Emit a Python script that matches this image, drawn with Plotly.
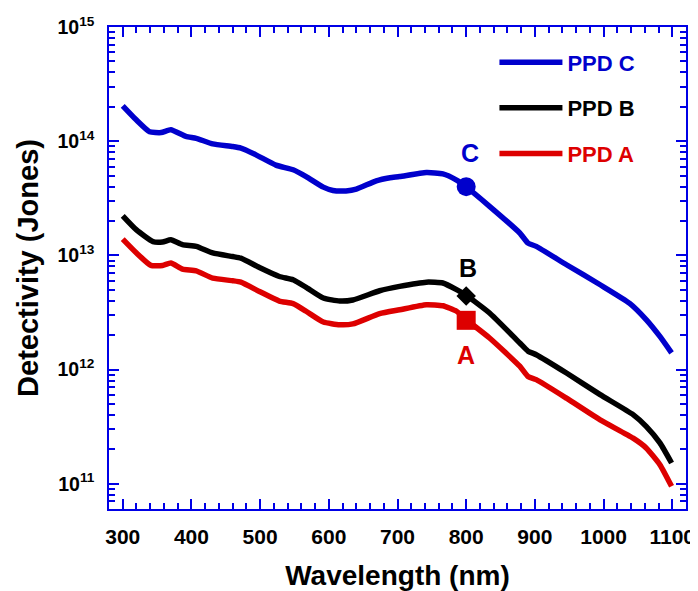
import math
import plotly.graph_objects as go

# ---------------- data ----------------
wl_c = [300, 320, 339, 356, 370, 392, 407, 431, 460, 472, 494, 523, 548, 567, 592, 606, 625, 640,
        669, 689, 703, 742, 766, 786, 800, 834, 878, 890, 902, 946, 995, 1038, 1062, 1082, 1099]
d_c = [2.04e14, 1.53e14, 1.21e14, 1.19e14, 1.26e14, 1.10e14, 1.06e14, 9.46e13, 8.97e13, 8.69e13,
       7.59e13, 6.17e13, 5.62e13, 4.90e13, 3.96e13, 3.70e13, 3.67e13, 3.80e13, 4.50e13, 4.79e13,
       4.90e13, 5.31e13, 5.18e13, 4.57e13, 3.98e13, 2.69e13, 1.57e13, 1.28e13, 1.20e13, 8.28e12,
       5.53e12, 3.80e12, 2.74e12, 1.95e12, 1.40e12]

wl_b = [300, 320, 344, 358, 370, 387, 407, 431, 460, 472, 499, 528, 548, 567, 592, 616, 635,
        674, 703, 742, 766, 786, 800, 834, 878, 890, 902, 946, 995, 1043, 1062, 1082, 1099]
d_b = [2.22e13, 1.67e13, 1.32e13, 1.31e13, 1.37e13, 1.24e13, 1.20e13, 1.05e13, 9.77e12, 9.46e12,
       7.83e12, 6.53e12, 6.11e12, 5.25e12, 4.23e12, 3.98e12, 4.07e12, 4.90e12, 5.35e12, 5.83e12,
       5.73e12, 5.01e12, 4.47e12, 3.13e12, 1.71e12, 1.45e12, 1.35e12, 9.33e11, 6.03e11, 4.03e11,
       3.18e11, 2.28e11, 1.52e11]

wl_a = [300, 320, 341, 358, 370, 387, 407, 431, 460, 472, 499, 528, 548, 567, 592, 616, 635,
        674, 703, 742, 766, 786, 800, 834, 878, 890, 902, 946, 995, 1043, 1062, 1082, 1099]
d_a = [1.39e13, 1.05e13, 8.17e12, 8.17e12, 8.57e12, 7.59e12, 7.33e12, 6.31e12, 6.00e12, 5.83e12,
       4.83e12, 3.98e12, 3.78e12, 3.24e12, 2.61e12, 2.47e12, 2.51e12, 3.09e12, 3.34e12, 3.70e12,
       3.62e12, 3.24e12, 2.74e12, 1.89e12, 1.07e12, 8.71e11, 8.17e11, 5.62e11, 3.63e11, 2.51e11,
       2.06e11, 1.47e11, 9.5e10]

mark_wl = [800]
mark_c = [4.0e13]
mark_b = [4.4e12]
mark_a = [2.7e12]

label_c, label_b, label_a = "C", "B", "A"
label_y_c, label_y_b, label_y_a = 7.9e13, 7.8e12, 1.33e12  # label positions (data units)

x_ticks = [300, 400, 500, 600, 700, 800, 900, 1000, 1100]
y_ticks = [1e11, 1e12, 1e13, 1e14, 1e15]
y_ticktext = ["10<sup>11</sup>", "10<sup>12</sup>", "10<sup>13</sup>", "10<sup>14</sup>", "10<sup>15</sup>"]

BLUE = "#0000CC"
BLACK = "#000000"
RED = "#DD0000"
AXIS = "#0000E6"
FONT = "Liberation Sans, Arial, sans-serif"

fig = go.Figure()

series = [
    ("PPD C", wl_c, d_c, BLUE, "c"),
    ("PPD B", wl_b, d_b, BLACK, "b"),
    ("PPD A", wl_a, d_a, RED, "a"),
]
for name, x, y, col, grp in series:
    fig.add_trace(go.Scatter(
        x=x, y=y, mode="lines", legendgroup=grp,
        name=f"<span style='color:{col}'><b>{name}</b></span>",
        line=dict(color=col, width=5.5, shape="spline", smoothing=0.5),
    ))

fig.add_trace(go.Scatter(x=mark_wl, y=mark_c, mode="markers", showlegend=False,
                         marker=dict(symbol="circle", size=19, color=BLUE)))
fig.add_trace(go.Scatter(x=mark_wl, y=mark_b, mode="markers", showlegend=False,
                         marker=dict(symbol="diamond", size=15, color=BLACK)))
fig.add_trace(go.Scatter(x=mark_wl, y=mark_a, mode="markers", showlegend=False,
                         marker=dict(symbol="square", size=19, color=RED)))

for txt, yv, col, xs in [(label_c, label_y_c, BLUE, 4), (label_b, label_y_b, BLACK, 2),
                         (label_a, label_y_a, RED, 0)]:
    fig.add_annotation(x=800, y=math.log10(yv), text=f"<b>{txt}</b>", showarrow=False,
                       xshift=xs, font=dict(family=FONT, size=25, color=col))

# the page body adds an 8px offset, so the figure is 8px smaller than the window
fig.update_layout(
    width=690, height=583,
    margin=dict(l=101, r=12, t=19, b=82, autoexpand=False),
    paper_bgcolor="white", plot_bgcolor="white",
    font=dict(family=FONT, color="black"),
    showlegend=True,
    legend=dict(x=0.668, y=0.97, xanchor="left", yanchor="top",
                bgcolor="rgba(0,0,0,0)", borderwidth=0,
                font=dict(family=FONT, size=22),
                itemwidth=63, tracegroupgap=14, traceorder="grouped"),
    xaxis=dict(
        range=[280, 1120], tickvals=x_ticks, automargin=False,
        ticktext=[f"<b>{v}</b>" for v in x_ticks],
        tickfont=dict(family=FONT, size=21, color="black"),
        ticks="inside", ticklen=10, tickwidth=1.5, tickcolor=AXIS,
        showline=True, linecolor=AXIS, linewidth=1.5, mirror="allticks",
        showgrid=False, zeroline=False,
        minor=dict(dtick=20, ticks="inside", ticklen=6, tickwidth=1.5, tickcolor=AXIS, showgrid=False),
        title=dict(text="<b>Wavelength (nm)</b>", font=dict(family=FONT, size=28, color="black"), standoff=19),
        ticklabelstandoff=8,
    ),
    yaxis=dict(
        type="log", range=[10.779, 15], automargin=False,
        tickvals=y_ticks, ticktext=[f"<b>{t}</b>" for t in y_ticktext],
        tickfont=dict(family=FONT, size=19.5, color="black"),
        ticks="inside", ticklen=10, tickwidth=1.5, tickcolor=AXIS,
        showline=True, linecolor=AXIS, linewidth=1.5, mirror="allticks",
        showgrid=False, zeroline=False,
        minor=dict(dtick="D1", ticks="inside", ticklen=6, tickwidth=1.5, tickcolor=AXIS, showgrid=False),
        title=dict(text="<b>Detectivity (Jones)</b>", font=dict(family=FONT, size=29, color="black"), standoff=10),
        ticklabelstandoff=9,
    ),
)

fig.write_html("out.html")
